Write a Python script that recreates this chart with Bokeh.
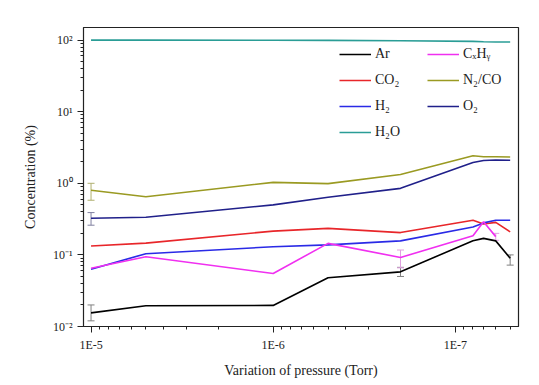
from bokeh.plotting import figure
from bokeh.models import Range1d, ColumnDataSource, Whisker, TeeHead, CustomJSTickFormatter
from bokeh.embed import file_html
from bokeh.resources import INLINE

# ---- data ----
pressure = [1e-5, 5e-6, 1e-6, 5e-7, 2e-7, 8e-8, 7e-8, 6e-8, 5e-8]
ar = [0.0155, 0.0195, 0.0197, 0.048, 0.058, 0.158, 0.170, 0.157, 0.090]
co2 = [0.133, 0.146, 0.215, 0.235, 0.205, 0.305, 0.27, 0.285, 0.21]
h2 = [0.063, 0.104, 0.13, 0.138, 0.157, 0.245, 0.28, 0.305, 0.305]
h2o = [100, 100, 99.5, 99, 98, 96, 95, 94, 94]
cxhy = [0.065, 0.094, 0.055, 0.145, 0.092, 0.185, 0.29, 0.18]
n2co = [0.80, 0.65, 1.03, 0.99, 1.33, 2.42, 2.35, 2.35, 2.33]
o2 = [0.325, 0.335, 0.50, 0.64, 0.85, 1.95, 2.08, 2.12, 2.10]

series_names = ["Ar", "CO\u2082", "H\u2082", "H\u2082O", "C\u2093H\u1d67", "N\u2082/CO", "O\u2082"]
series_values = [ar, co2, h2, h2o, cxhy, n2co, o2]
series_colors = ["#000000", "#e8262a", "#2a2ae6", "#2a9d96", "#f030f0", "#9a9a22", "#20208a"]

# error bars: x, lower, upper
ar_err_x = [1e-5, 2e-7, 5e-8]
ar_err_lo = [0.012, 0.050, 0.072]
ar_err_hi = [0.020, 0.067, 0.100]
n2co_err_x = [1e-5]
n2co_err_lo = [0.58]
n2co_err_hi = [1.0]
o2_err_x = [1e-5]
o2_err_lo = [0.26]
o2_err_hi = [0.39]
cxhy_err_x = [2e-7, 6e-8]
cxhy_err_lo = [0.066, 0.16]
cxhy_err_hi = [0.117, 0.20]

FONT = "Liberation Serif"

p = figure(width=536, height=380, x_axis_type="log", y_axis_type="log",
           x_range=Range1d(1.1e-5, 4.5e-8), y_range=Range1d(0.01, 150),
           output_backend="svg", toolbar_location=None,
           min_border_left=83, min_border_right=18, min_border_top=27, min_border_bottom=53,
           background_fill_color="white", border_fill_color="white")

p.grid.visible = False
p.outline_line_color = "#222222"
p.outline_line_width = 1.2

for name, vals, col in zip(series_names, series_values, series_colors):
    p.line(pressure[:len(vals)], vals, line_color=col, line_width=1.6, legend_label=name)

def add_err(xs, lo, hi, col):
    src = ColumnDataSource(dict(x=xs, lower=lo, upper=hi))
    w = Whisker(base="x", lower="lower", upper="upper", source=src, dimension="height",
                line_color=col, line_width=1,
                upper_head=TeeHead(size=7, line_color=col, line_width=1),
                lower_head=TeeHead(size=7, line_color=col, line_width=1))
    p.add_layout(w)

add_err(ar_err_x, ar_err_lo, ar_err_hi, "#808080")
add_err(n2co_err_x, n2co_err_lo, n2co_err_hi, "#b0b070")
add_err(o2_err_x, o2_err_lo, o2_err_hi, "#8080a0")
add_err(cxhy_err_x, cxhy_err_lo, cxhy_err_hi, "#e0a0e0")

# axes
p.xaxis.formatter = CustomJSTickFormatter(code="""
const e = Math.round(Math.log10(tick));
return "1E" + e;
""")
p.yaxis.formatter = CustomJSTickFormatter(code="""
const e = Math.round(Math.log10(tick));
const sup = {"-":"\u207b","0":"\u2070","1":"\u00b9","2":"\u00b2","3":"\u00b3","4":"\u2074","5":"\u2075","6":"\u2076","7":"\u2077","8":"\u2078","9":"\u2079"};
let s = "";
for (const c of String(e)) s += sup[c];
return "10" + s;
""")
for ax in (p.xaxis[0], p.yaxis[0]):
    ax.axis_line_color = "#222222"
    ax.major_tick_line_color = "#222222"
    ax.minor_tick_line_color = "#222222"
    ax.major_tick_out = 6
    ax.major_tick_in = 0
    ax.minor_tick_out = 3
    ax.minor_tick_in = 0
    ax.major_label_text_font = FONT
    ax.major_label_text_font_size = "12px"
    ax.major_label_text_color = "#222222"
    ax.axis_label_text_font = FONT
    ax.axis_label_text_font_size = "14px"
    ax.axis_label_text_font_style = "normal"
    ax.axis_label_text_color = "#222222"

p.xaxis.axis_label = "Variation of pressure (Torr)"
p.yaxis.axis_label = "Concentration (%)"
p.xaxis.axis_label_standoff = 8
p.yaxis.axis_label_standoff = 12

# legend
lg = p.legend[0]
lg.nrows = 4
lg.orientation = "vertical"
lg.location = (256, 184)
lg.border_line_color = None
lg.background_fill_alpha = 0
lg.label_text_font = FONT
lg.label_text_font_size = "14px"
lg.label_text_color = "#222222"
lg.glyph_width = 32
lg.label_standoff = 4
lg.label_width = 46
lg.label_height = 16
lg.spacing = 6
lg.padding = 4
lg.margin = 0

open("out.html", "w").write(file_html(p, INLINE))
